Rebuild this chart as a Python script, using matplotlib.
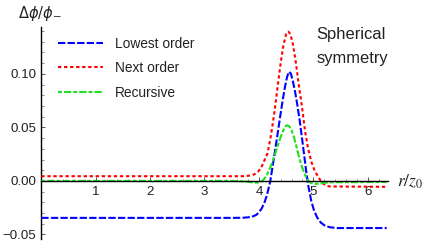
import matplotlib
matplotlib.use("Agg")
import matplotlib.pyplot as plt
from matplotlib.ticker import MultipleLocator, FixedLocator, FuncFormatter

# ---------------- data ----------------
r_lowest = [0.00, 3.50, 3.70, 3.80, 3.88, 3.95, 4.00, 4.05, 4.10, 4.15, 4.21, 4.26,
            4.30, 4.35, 4.40, 4.44, 4.48, 4.52, 4.555, 4.59, 4.63, 4.67, 4.71, 4.75,
            4.79, 4.83, 4.87, 4.91, 4.96, 5.01, 5.07, 5.14, 5.22, 5.31, 5.45, 6.35]
v_lowest = [-0.0345, -0.0345, -0.0344, -0.0340, -0.0333, -0.0318, -0.0295, -0.0258,
            -0.0205, -0.0130, 0.0000, 0.0160, 0.0290, 0.0460, 0.0630, 0.0760, 0.0880,
            0.0975, 0.1020, 0.1000, 0.0920, 0.0820, 0.0700, 0.0565, 0.0410, 0.0250,
            0.0090, -0.0050, -0.0180, -0.0270, -0.0340, -0.0390, -0.0420, -0.0433,
            -0.0440, -0.0440]

r_next = [0.00, 3.60, 3.75, 3.85, 3.92, 3.98, 4.04, 4.10, 4.16, 4.22, 4.28, 4.34,
          4.40, 4.45, 4.50, 4.54, 4.58, 4.63, 4.68, 4.73, 4.79, 4.85, 4.91, 4.97,
          5.03, 5.09, 5.15, 5.22, 5.30, 6.35]
v_next = [0.0044, 0.0044, 0.0045, 0.0051, 0.0062, 0.0085, 0.0120, 0.0190, 0.0260,
          0.0420, 0.0620, 0.0860, 0.1100, 0.1265, 0.1370, 0.1395, 0.1370, 0.1266,
          0.1105, 0.0910, 0.0700, 0.0460, 0.0290, 0.0170, 0.0090, 0.0040, -0.0010,
          -0.0040, -0.0052, -0.0055]

r_rec = [0.00, 3.50, 3.75, 3.90, 3.98, 4.05, 4.10, 4.15, 4.20, 4.25, 4.30, 4.35,
         4.40, 4.45, 4.49, 4.52, 4.56, 4.60, 4.65, 4.70, 4.75, 4.80, 4.85, 4.90,
         4.96, 5.03, 5.10, 5.20, 5.35, 6.35]
v_rec = [0.0000, 0.0000, -0.0005, -0.0015, -0.0016, -0.0005, 0.0020, 0.0060, 0.0115,
         0.0180, 0.0255, 0.0335, 0.0410, 0.0475, 0.0510, 0.0520, 0.0510, 0.0475,
         0.0400, 0.0300, 0.0200, 0.0120, 0.0055, 0.0005, -0.0020, -0.0028, -0.0025,
         -0.0018, -0.0012, -0.0010]

labels = ["Lowest order", "Next order", "Recursive"]
x_ticks = [1, 2, 3, 4, 5, 6]
y_ticks = [-0.05, 0.00, 0.05, 0.10]

# ---------------- figure ----------------
W, H = 427, 244
fig = plt.figure(figsize=(W / 100, H / 100), dpi=100)
plt.rcParams['font.family'] = ['Liberation Sans', 'DejaVu Sans']

x0, x1 = 41.3, 387.8
ytop, ybot = 26.7, 239.3
ax = fig.add_axes([x0 / W, (H - ybot) / H, (x1 - x0) / W, (ybot - ytop) / H])
ax.set_xlim(0, 6.37)
ax.set_ylim(-0.0545, 0.144)

lw = 1.5
ax.plot(r_lowest, v_lowest, color='#0000ff', lw=lw, dashes=(3.5, 1.1), label=labels[0], zorder=3)
ax.plot(r_next, v_next, color='#ff0000', lw=lw, dashes=(1.6, 1.3), label=labels[1], zorder=3)
ax.plot(r_rec, v_rec, color='#1ee01e', lw=lw, dashes=(1.9, 0.96, 3.5, 0.96), label=labels[2], zorder=3)

# axes styling (Mathematica-like, axes crossing at origin)
for s in ['top', 'right']:
    ax.spines[s].set_visible(False)
ax.spines['bottom'].set_position(('data', 0))
ax.spines['left'].set_position(('data', 0))
ax.spines['bottom'].set_linewidth(1.0)
ax.spines['left'].set_linewidth(1.0)
ax.spines['bottom'].set_zorder(4)

ax.xaxis.set_major_locator(FixedLocator(x_ticks))
ax.xaxis.set_minor_locator(MultipleLocator(0.2))
ax.yaxis.set_major_locator(FixedLocator(y_ticks))
ax.yaxis.set_minor_locator(MultipleLocator(0.01))
ax.yaxis.set_major_formatter(FuncFormatter(lambda v, p: ("%.2f" % v).replace('-', '\u2212')))
ax.tick_params(axis='both', which='major', direction='in', length=3.2, width=0.7,
               labelsize=9.6, color='#555555')
ax.tick_params(axis='both', which='minor', direction='in', length=1.8, width=0.6, color='#777777')
ax.tick_params(axis='x', which='major', pad=3.6)
ax.tick_params(axis='y', which='major', pad=3.6)
for t in ax.get_xticklabels() + ax.get_yticklabels():
    t.set_color('#222222')

# legend
leg = ax.legend(loc='upper left', bbox_to_anchor=(58 / W, 1 - 36.5 / H),
                bbox_transform=fig.transFigure, frameon=False, fontsize=9.9,
                handlelength=3.3, handletextpad=0.85, labelspacing=0.78,
                borderpad=0, borderaxespad=0)
for t in leg.get_texts():
    t.set_color('#222222')

# annotation text
fig.text(316.7 / W, 1 - 39.3 / H, "Spherical", fontsize=11.9, va='baseline', ha='left', color='#222222')
fig.text(316.7 / W, 1 - 63.3 / H, "symmetry", fontsize=11.9, va='baseline', ha='left', color='#222222')

# axis labels
fig.text(18.3 / W, 1 - 13.3 / H, r'$\Delta\phi/\phi_{-}$', fontsize=10.5, va='center', ha='left',
         math_fontfamily='dejavusans', color='#222222')
fig.text(397 / W, 1 - 182 / H, r'$r/z_0$', fontsize=12.5, va='center', ha='left',
         math_fontfamily='stix', color='#222222')

fig.savefig('out.png', dpi=100)
